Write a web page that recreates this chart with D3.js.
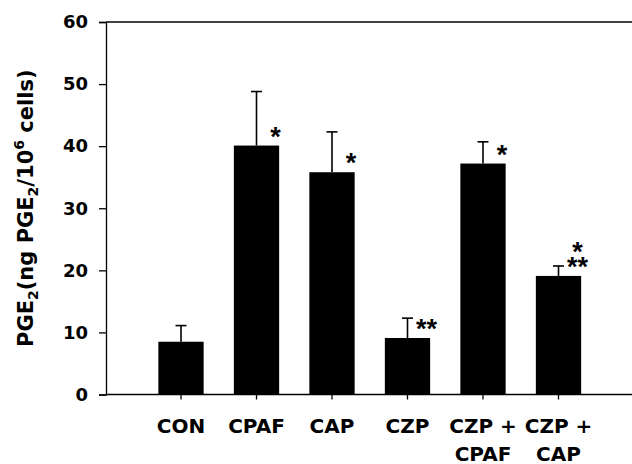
<!DOCTYPE html>
<html>
<head>
<meta charset="utf-8">
<script src="https://cdn.jsdelivr.net/npm/d3@7/dist/d3.min.js"></script>
<style>
  html, body { margin: 0; padding: 0; background: #fff; }
  svg { display: block; }
</style>
</head>
<body>
<svg id="chart" width="632" height="464"></svg>
<script>
// ---- data ----
const categories = ["CON", "CPAF", "CAP", "CZP", "CZP +\nCPAF", "CZP +\nCAP"];
const means = [8.5, 40.1, 35.8, 9.1, 37.2, 19.1];
const errors = [2.6, 8.7, 6.5, 3.2, 3.5, 1.6];
const sigNear = ["", "*", "*", "**", "*", "**"];
const sigFar = ["", "", "", "", "", "*"];
const yTicks = [0, 10, 20, 30, 40, 50, 60];

(function () {
const svg = d3.select("#chart");
const mLeft = 106, mRight = 632, mTop = 22, mBottom = 394.5;

const y = d3.scaleLinear().domain([0, 60]).range([mBottom, mTop]);
const x = d3.scaleBand().domain(categories)
  .range([143.25, 596.25]).paddingInner(0.4).paddingOuter(0.2);

// frame top line
svg.append("line").attr("x1", mLeft).attr("x2", mRight).attr("y1", mTop).attr("y2", mTop)
  .attr("stroke", "#000").attr("stroke-width", 1.3);

// y axis
const yAxis = d3.axisLeft(y).tickValues(yTicks).tickSize(7).tickPadding(11);
const gy = svg.append("g").attr("transform", `translate(${mLeft},0)`).call(yAxis);
gy.select(".domain").attr("stroke-width", 1.3);
gy.selectAll(".tick line").attr("stroke-width", 1.3);
gy.selectAll("text").attr("font-family", "DejaVu Sans").attr("font-weight", "bold")
  .attr("font-size", 18).attr("fill", "#000");

// x axis
const xAxis = d3.axisBottom(x).tickSize(5).tickFormat("");
const gx = svg.append("g").attr("transform", `translate(0,${mBottom})`).call(xAxis);
gx.select(".domain").remove();
gx.selectAll(".tick line").attr("stroke-width", 1.3);
svg.append("line").attr("x1", mLeft).attr("x2", mRight).attr("y1", mBottom).attr("y2", mBottom)
  .attr("stroke", "#000").attr("stroke-width", 1.3);

// x labels (multi-line)
const xl = svg.append("g");
categories.forEach(c => {
  const lines = c.split("\n");
  const t = xl.append("text")
    .attr("text-anchor", "middle")
    .attr("font-family", "DejaVu Sans").attr("font-weight", "bold")
    .attr("font-size", 20).attr("fill", "#000");
  lines.forEach((ln, i) => {
    t.append("tspan").attr("x", x(c) + x.bandwidth() / 2)
      .attr("y", mBottom + 38 + i * 28).text(ln);
  });
});

// bars
const cx = d => x(d) + x.bandwidth() / 2;
svg.append("g").selectAll("rect").data(categories).join("rect")
  .attr("x", d => x(d)).attr("width", x.bandwidth())
  .attr("y", (d, i) => y(means[i])).attr("height", (d, i) => mBottom - y(means[i]))
  .attr("fill", "#000");

// error bars
const eb = svg.append("g").attr("stroke", "#000").attr("stroke-width", 1.6);
categories.forEach((c, i) => {
  eb.append("line").attr("x1", cx(c)).attr("x2", cx(c))
    .attr("y1", y(means[i])).attr("y2", y(means[i] + errors[i]));
  eb.append("line").attr("x1", cx(c) - 5.5).attr("x2", cx(c) + 5.5)
    .attr("y1", y(means[i] + errors[i])).attr("y2", y(means[i] + errors[i]));
});

// significance stars (one text per bar, stacked lines as tspans)
const sg = svg.append("g").attr("font-family", "Liberation Sans").attr("font-weight", "bold")
  .attr("font-size", 27).attr("text-anchor", "middle").attr("fill", "#000");
categories.forEach((c, i) => {
  if (!sigNear[i]) return;
  const t = sg.append("text");
  if (sigFar[i]) t.append("tspan").attr("x", cx(c) + 19).attr("y", y(means[i]) - 30 + 15).text(sigFar[i]);
  t.append("tspan").attr("x", cx(c) + 19).attr("y", y(means[i]) - 15 + 15).text(sigNear[i]);
});

// y label
const yl = svg.append("text")
  .attr("transform", `translate(33,${(mTop + mBottom) / 2}) rotate(-90)`)
  .attr("text-anchor", "middle")
  .attr("font-family", "DejaVu Sans").attr("font-weight", "bold")
  .attr("font-size", 21).attr("fill", "#000");
yl.append("tspan").text("PGE");
yl.append("tspan").attr("font-size", 14).attr("dy", 5).text("2");
yl.append("tspan").attr("dy", -5).text("(ng PGE");
yl.append("tspan").attr("font-size", 14).attr("dy", 5).text("2");
yl.append("tspan").attr("dy", -5).text("/10");
yl.append("tspan").attr("font-size", 14).attr("dy", -9).text("6");
yl.append("tspan").attr("dy", 9).text(" cells)");
})();
</script>
</body>
</html>
